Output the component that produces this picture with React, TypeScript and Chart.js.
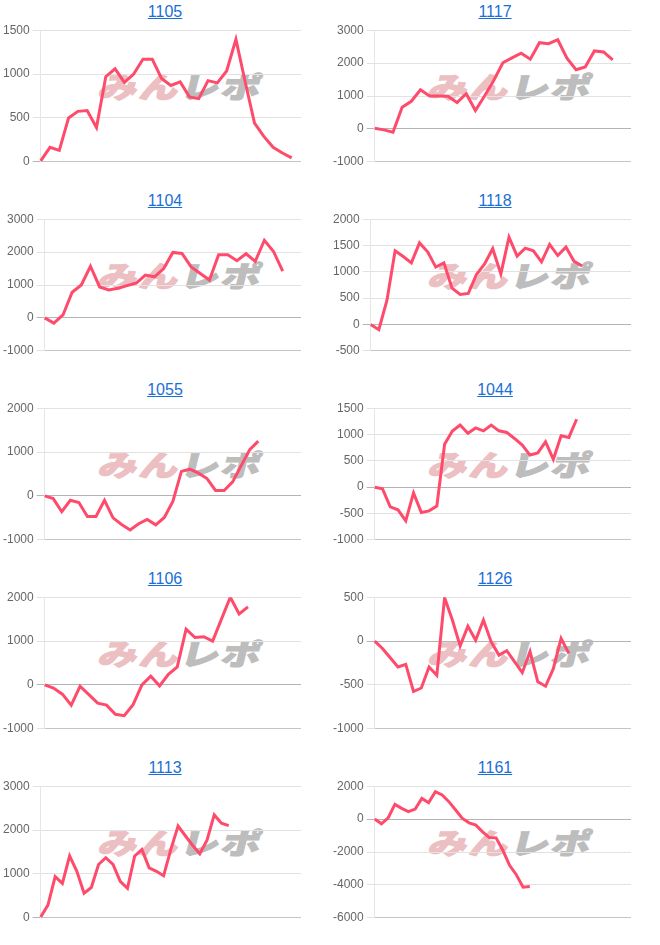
import React, { useEffect, useRef } from "react";
import { Chart, registerables } from "chart.js";

Chart.register(...registerables);

// ---- data ----
const titles = ["1105", "1117", "1104", "1118", "1055", "1044", "1106", "1126", "1113", "1161"];

const s1105 = [10, 165, 130, 500, 575, 585, 390, 970, 1060, 905, 1000, 1170, 1170, 950, 870, 910, 740, 720, 925, 900, 1035, 1395, 910, 440, 290, 165, 100, 45];
const s1117 = [20, -30, -100, 660, 840, 1190, 1000, 1000, 990, 800, 1070, 560, 1000, 1470, 2010, 2160, 2300, 2120, 2620, 2590, 2710, 2150, 1800, 1880, 2370, 2340, 2100];
const s1104 = [0, -160, 90, 780, 1000, 1570, 940, 850, 900, 980, 1060, 1300, 1250, 1500, 1990, 1960, 1550, 1350, 1150, 1920, 1920, 1740, 1950, 1720, 2360, 2020, 1420];
const s1118 = [0, -100, 460, 1400, 1290, 1170, 1550, 1380, 1090, 1170, 690, 570, 590, 950, 1150, 1440, 960, 1660, 1300, 1450, 1400, 1190, 1520, 1310, 1470, 1200, 1110];
const s1055 = [0, -60, -360, -100, -150, -470, -470, -100, -500, -650, -775, -635, -535, -660, -490, -125, 560, 610, 520, 395, 125, 125, 320, 690, 1055, 1250];
const s1044 = [0, -30, -375, -430, -640, -110, -480, -450, -360, 815, 1065, 1180, 1025, 1125, 1070, 1180, 1070, 1040, 925, 800, 610, 650, 860, 530, 975, 945, 1290];
const s1106 = [0, -70, -210, -460, -30, -220, -415, -460, -670, -700, -450, 0, 200, -20, 240, 410, 1270, 1080, 1100, 1000, 1500, 2000, 1620, 1780];
const s1126 = [0, -85, -190, -295, -265, -575, -535, -295, -390, 495, 240, -55, 170, 10, 240, -10, -160, -110, -235, -360, -120, -465, -515, -315, 30, -140];
const s1113 = [20, 290, 940, 785, 1410, 1060, 560, 690, 1215, 1370, 1215, 830, 670, 1410, 1555, 1140, 1060, 960, 1560, 2090, 1870, 1655, 1460, 1770, 2345, 2155, 2100];
const s1161 = [0, -285, 80, 895, 650, 450, 610, 1260, 1000, 1670, 1465, 1060, 550, 40, -225, -365, -775, -1120, -1140, -1895, -2810, -3380, -4135, -4095];

const series = [s1105, s1117, s1104, s1118, s1055, s1044, s1106, s1126, s1113, s1161];

// number of x slots (days) on each chart's x axis
const slotCounts = [29, 29, 29, 33, 31, 34, 30, 34, 37, 39];

// y axis ticks
const yMins = [0, -1000, -1000, -500, -1000, -1000, -1000, -1000, 0, -6000];
const yMaxs = [1500, 3000, 3000, 2000, 2000, 1500, 2000, 500, 3000, 2000];
const ySteps = [500, 1000, 1000, 500, 1000, 500, 1000, 500, 1000, 2000];

const LINE_COLOR = "#ff4b6b";
const FONT = "Arial, 'Liberation Sans', sans-serif";

function MiniChart({ index }: { index: number }) {
  const ref = useRef<HTMLCanvasElement | null>(null);
  useEffect(() => {
    if (!ref.current) return;
    const labels = Array.from({ length: slotCounts[index] }, (_, i) => String(i + 1));
    const chart = new Chart(ref.current, {
      type: "line",
      data: {
        labels,
        datasets: [
          {
            data: series[index],
            borderColor: LINE_COLOR,
            backgroundColor: LINE_COLOR,
            borderWidth: 3,
            pointRadius: 0,
            pointHoverRadius: 0,
            tension: 0,
            fill: false,
          },
        ],
      },
      options: {
        responsive: false,
        animation: false,
        events: [],
        layout: { padding: 0 },
        plugins: { legend: { display: false }, tooltip: { enabled: false }, title: { display: false } },
        scales: {
          x: {
            display: true,
            offset: false,
            grid: { display: false },
            ticks: { display: false },
            border: { display: true, color: "#c4c4c4", width: 1 },
          },
          y: {
            min: yMins[index],
            max: yMaxs[index],
            ticks: {
              stepSize: ySteps[index],
              color: "#666",
              font: { family: FONT, size: 12 },
              callback: (v: any) => String(v),
            },
            grid: {
              color: (ctx: any) => (ctx.tick && ctx.tick.value === 0 ? "#b4b4b4" : "#e2e2e2"),
            },
            border: { display: true, color: "#e6e6e6", width: 1 },
          },
        },
      },
    });
    return () => chart.destroy();
  }, [index]);

  const col = index % 2;
  const row = Math.floor(index / 2);
  return (
    <div
      style={{
        position: "absolute",
        left: col * 330,
        top: row * 189,
        width: 330,
        height: 189,
      }}
    >
      <div
        style={{
          position: "absolute",
          left: 0,
          top: 0,
          width: 330,
          height: 23,
          lineHeight: "23px",
          textAlign: "center",
          fontFamily: FONT,
          fontSize: 16,
        }}
      >
        <a href="#" style={{ color: "#1a6fd6", textDecoration: "underline" }}>
          {titles[index]}
        </a>
      </div>
      <div
        style={{
          position: "absolute",
          left: 104,
          top: 67,
          whiteSpace: "nowrap",
          fontFamily: "'Noto Sans CJK JP', sans-serif",
          fontWeight: 900,
          fontSize: 37,
          lineHeight: "38px",
          letterSpacing: 2,
          transformOrigin: "center center",
          transform: "skewX(-14deg) scale(1.05, 0.78)",
          zIndex: 0,
          userSelect: "none",
        }}
      >
        <span style={{ color: "#ecc0c3", WebkitTextStroke: "1.5px #ecc0c3" }}>みん</span>
        <span style={{ color: "#bdbdbd", WebkitTextStroke: "1.5px #bdbdbd" }}>レポ</span>
      </div>
      <canvas
        ref={ref}
        width={301}
        height={152}
        style={{ position: "absolute", left: 0, top: 20, width: 301, height: 152, zIndex: 1 }}
      />
    </div>
  );
}

export default function App() {
  return (
    <div style={{ position: "absolute", left: 0, top: 0, width: 660, height: 945, background: "#fff" }}>
      {titles.map((_, i) => (
        <MiniChart key={i} index={i} />
      ))}
    </div>
  );
}
